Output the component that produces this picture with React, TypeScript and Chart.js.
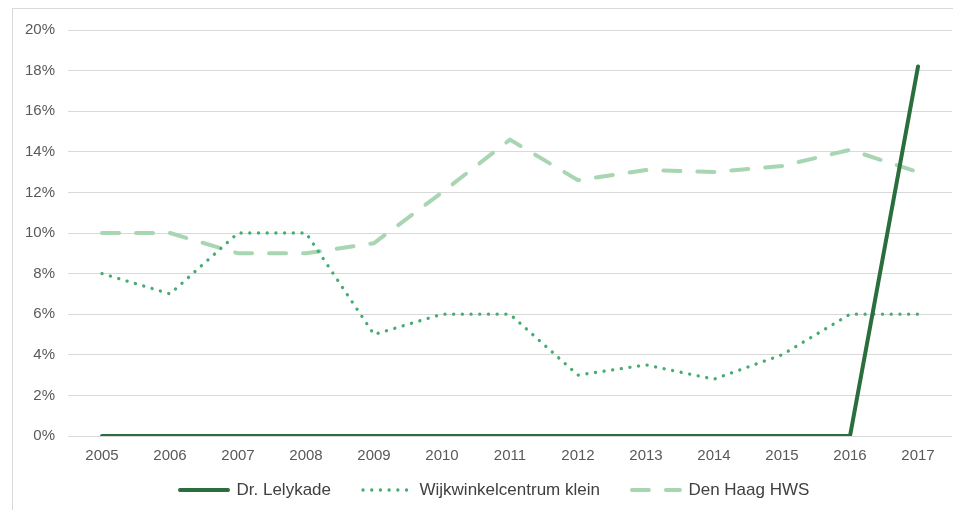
import React, { useEffect, useRef } from "react";
import { Chart, registerables } from "chart.js";

Chart.register(...registerables);

const years = ["2005", "2006", "2007", "2008", "2009", "2010", "2011", "2012", "2013", "2014", "2015", "2016", "2017"];
const lelykade = [0, 0, 0, 0, 0, 0, 0, 0, 0, 0, 0, 0, 18.2];
const wijkwinkelcentrumKlein = [8, 7, 10, 10, 5, 6, 6, 3, 3.5, 2.8, 4, 6, 6];
const denHaagHWS = [10, 10, 9, 9, 9.5, 12, 14.6, 12.6, 13.1, 13, 13.3, 14.1, 13];
const seriesNames = ["Dr. Lelykade", "Wijkwinkelcentrum klein", "Den Haag HWS"];

const FONT = "'Liberation Sans', Arial, sans-serif";

const legendPos = {
  id: "legendPos",
  afterLayout(chart: any) {
    const lg = chart.legend;
    if (lg) {
      const pad = lg.options.labels.padding;
      lg.left = 180 - pad;
      lg.top = 481.5 - pad;
    }
  },
};

export default function App() {
  const ref = useRef<HTMLCanvasElement | null>(null);
  useEffect(() => {
    if (!ref.current) return;
    const chart = new Chart(ref.current, {
      type: "line",
      data: {
        labels: years,
        datasets: [
          {
            label: seriesNames[0],
            data: lelykade,
            borderColor: "#2b6e3d",
            backgroundColor: "#2b6e3d",
            borderWidth: 4,
            borderCapStyle: "round",
            borderJoinStyle: "round",
            pointRadius: 0,
            pointStyle: "line",
            tension: 0,
          },
          {
            label: seriesNames[1],
            data: wijkwinkelcentrumKlein,
            borderColor: "#46ad70",
            backgroundColor: "#46ad70",
            borderWidth: 3.3,
            borderDash: [0.1, 8.6],
            borderCapStyle: "round",
            borderJoinStyle: "round",
            pointRadius: 0,
            pointStyle: "line",
            tension: 0,
          },
          {
            label: seriesNames[2],
            data: denHaagHWS,
            borderColor: "#a8d5b2",
            backgroundColor: "#a8d5b2",
            borderWidth: 4,
            borderDash: [17, 17],
            borderCapStyle: "round",
            borderJoinStyle: "round",
            pointRadius: 0,
            pointStyle: "line",
            tension: 0,
          },
        ],
      },
      options: {
        animation: false,
        responsive: false,
        maintainAspectRatio: false,
        layout: { padding: { top: 30, right: 1, left: 0, bottom: 0 } },
        scales: {
          x: {
            offset: true,
            grid: { display: false, drawTicks: false },
            border: { display: false },
            ticks: { color: "#595959", font: { family: FONT, size: 15 }, padding: 11, maxRotation: 0 },
            afterFit: (s: any) => {
              s.height = 30;
            },
          },
          y: {
            min: 0,
            max: 20,
            grid: { color: "#d9d9d9", drawTicks: false, lineWidth: 1 },
            border: { display: false },
            ticks: {
              stepSize: 2,
              color: "#595959",
              font: { family: FONT, size: 15 },
              padding: 13,
              callback: (v: any) => `${v}%`,
            },
            afterFit: (s: any) => {
              s.width = 68;
            },
          },
        },
        plugins: {
          tooltip: { enabled: false },
          legend: {
            position: "bottom",
            align: "start",
            maxHeight: 44,
            labels: {
              usePointStyle: true,
              pointStyle: "line",
              pointStyleWidth: 48,
              padding: 32,
              color: "#404040",
              font: { family: FONT, size: 17 },
              generateLabels: (c: any) => {
                const items = (Chart.defaults.plugins.legend.labels as any).generateLabels(c);
                return items.map((it: any) => {
                  const ds: any = c.data.datasets[it.datasetIndex];
                  return {
                    ...it,
                    pointStyle: "line",
                    strokeStyle: ds.borderColor,
                    fillStyle: ds.borderColor,
                    lineWidth: ds.borderWidth,
                    lineDash: ds.borderDash || [],
                    lineCap: ds.borderCapStyle,
                  };
                });
              },
            },
          },
        },
      },
      plugins: [legendPos],
    });
    return () => chart.destroy();
  }, []);

  return (
    <div style={{ position: "absolute", left: 0, top: 0, width: 953, height: 510, overflow: "hidden", background: "#fff" }}>
      <div
        style={{
          position: "absolute",
          left: 12,
          top: 8,
          width: 960,
          height: 520,
          border: "1px solid #d9d9d9",
          boxSizing: "border-box",
        }}
      />
      <canvas ref={ref} width={953} height={510} style={{ position: "absolute", left: 0, top: 0, width: 953, height: 510 }} />
    </div>
  );
}
